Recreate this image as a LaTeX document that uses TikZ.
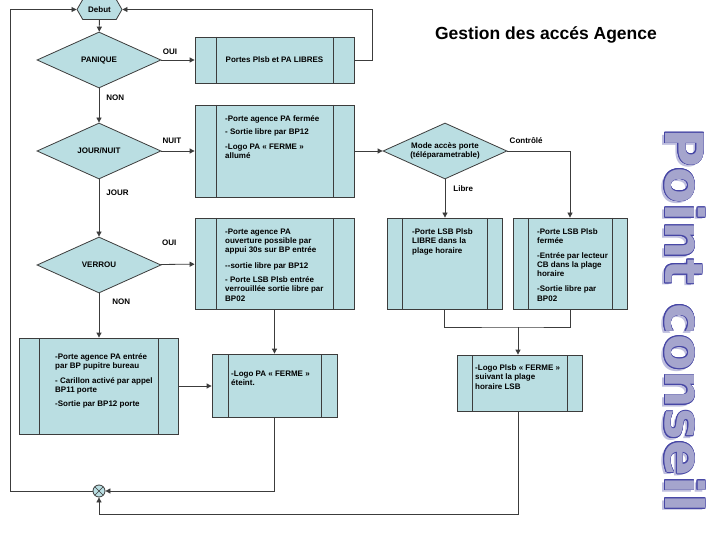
\documentclass[tikz,border=0pt]{standalone}
\usepackage{fontspec}
\setmainfont{Liberation Sans}
\newfontfamily\pcfont{DejaVu Sans}
\usetikzlibrary{arrows.meta,shapes.geometric,shapes.symbols,positioning,calc}
\definecolor{boxteal}{RGB}{186,222,226}
\definecolor{edgegray}{RGB}{60,60,60}
\definecolor{pcfill}{RGB}{165,165,205}
\definecolor{pcline}{RGB}{70,70,165}
\definecolor{pcshade}{RGB}{190,190,222}

\begin{document}
\begin{tikzpicture}[x=1pt, y=-1pt,
  every node/.style={font=\bfseries\fontsize{8}{9.3}\selectfont},
  strip/.store in=\stripw, strip=16pt,
  dec/.style={diamond, draw=edgegray, fill=boxteal, line width=0.8pt, aspect=2.2,
              minimum width=124pt, minimum height=56pt, inner sep=0pt, align=center},
  proc/.style={draw=edgegray, fill=boxteal, line width=0.8pt, inner sep=0pt, align=center,
               path picture={\draw[edgegray, line width=0.8pt]
                 ([xshift=\stripw]path picture bounding box.north west) -- ([xshift=\stripw]path picture bounding box.south west)
                 ([xshift=-\stripw]path picture bounding box.north east) -- ([xshift=-\stripw]path picture bounding box.south east);}},
  txt/.style={anchor=north west, align=left, inner sep=0pt},
  lbl/.style={inner sep=1pt},
  arrow/.style={-{Triangle[length=5pt,width=5pt]}, draw=edgegray, line width=0.8pt},
  wire/.style={draw=edgegray, line width=0.8pt},
  pc/.style={font=\pcfont\bfseries\fontsize{53}{60}\selectfont, rotate=-90,
             anchor=base west, inner sep=0pt},
]
\useasboundingbox[fill=white] (0,0) rectangle (720,540);

%% Start
\node[signal, signal to=west and east, signal pointer angle=120, draw=edgegray,
  fill=boxteal, line width=0.8pt, minimum width=45pt, minimum height=20pt,
  inner sep=0pt] (debut) at (99.5, 9.5) {Debut};

%% Decisions
\node[dec] (panique) at (99, 60) {PANIQUE};
\node[dec] (journuit) at (99, 151) {JOUR/NUIT};
\node[dec] (verrou) at (99, 265) {VERROU};
\node[dec] (mode) at (445, 151) {Mode accès porte\\(téléparametrable)};

%% Process boxes
\node[proc, strip=21pt, minimum width=159pt, minimum height=46pt] (portes) at (274.5, 60)
  {Portes Plsb et PA LIBRES};
\node[proc, strip=21pt, minimum width=159pt, minimum height=92pt] (nuitbox) at (274.5, 151) {};
\node[proc, strip=21pt, minimum width=159pt, minimum height=91pt] (verroubox) at (274.5, 263.5) {};
\node[proc, strip=15pt, minimum width=115pt, minimum height=91pt] (librebox) at (444.5, 263.5) {};
\node[proc, strip=15pt, minimum width=114pt, minimum height=91pt] (ctrlbox) at (570, 263.5) {};
\node[proc, strip=20pt, minimum width=159pt, minimum height=96pt] (jourbox) at (98.5, 386) {};
\node[proc, strip=16pt, minimum width=125pt, minimum height=63pt] (eteint) at (274.5, 385.5) {};
\node[proc, strip=15pt, minimum width=125pt, minimum height=56pt] (logolsb) at (519.5, 383) {};

%% Box texts
\node[txt] (nuittxt) at (225, 115.5)
  {-Porte agence PA fermée\\[4pt]- Sortie libre par BP12\\[5pt]-Logo PA « FERME »\\allumé};
\node[txt] (verroutxt) at (225, 228.5)
  {-Porte agence PA\\ouverture possible par\\appui 30s sur BP entrée\\[6pt]
   -{}-sortie libre par BP12\\[5pt]- Porte LSB Plsb entrée\\verrouillée sortie libre par\\BP02};
\node[txt] (libretxt) at (412, 228.5)
  {-Porte LSB Plsb\\LIBRE dans la\\plage horaire};
\node[txt] (ctrltxt) at (537, 228.5)
  {-Porte LSB Plsb\\fermée\\[5pt]-Entrée par lecteur\\CB dans la plage\\horaire\\[6pt]
   -Sortie libre par\\BP02};
\node[txt] (jourtxt) at (55, 353.5)
  {-Porte agence PA entrée\\par BP pupitre bureau\\[5pt]- Carillon activé par appel\\BP11 porte\\[5pt]
   -Sortie par BP12 porte};
\node[txt] (eteinttxt) at (231, 370.5) {-Logo PA « FERME »\\éteint.};
\node[txt] (logolsbtxt) at (475, 364.5) {-Logo Plsb « FERME »\\suivant la plage\\horaire LSB};

%% Junction
\node[circle, draw=edgegray, fill=boxteal, line width=0.8pt, minimum size=12pt, inner sep=0pt,
  path picture={\draw[edgegray, line width=0.7pt]
    (path picture bounding box.north west) -- (path picture bounding box.south east)
    (path picture bounding box.north east) -- (path picture bounding box.south west);}]
  (merge) at (99, 491) {};

%% Connectors
\draw[arrow] (debut) -- (panique);
\draw[arrow] (panique) -- (portes) node[lbl, pos=0.26, above, yshift=4pt] {OUI};
\draw[arrow] (portes.east) -- ++(18,0) |- (debut.east);
\draw[arrow] (panique) -- (journuit) node[lbl, pos=0.26, right, xshift=6pt] {NON};
\draw[arrow] (journuit) -- (nuitbox) node[lbl, pos=0.32, above, yshift=6pt] {NUIT};
\draw[arrow] (nuitbox) -- (mode);
\draw[arrow] (mode.east) -| (ctrlbox.north) node[lbl, pos=0.15, above, yshift=6pt] {Contrôlé};
\draw[arrow] (mode.south) -- (mode.south |- librebox.north)
  node[lbl, pos=0.23, right, xshift=7pt] {Libre};
\draw[arrow] (journuit) -- (verrou) node[lbl, pos=0.24, right, xshift=6pt] {JOUR};
\draw[arrow] (verrou) -- (verroubox) node[lbl, pos=0.26, above, yshift=17pt] {OUI};
\draw[arrow] (verrou.south) -- (verrou.south |- jourbox.north)
  node[lbl, pos=0.18, right, xshift=12pt] {NON};
\draw[arrow] (verroubox) -- (eteint);
\draw[arrow] (jourbox.east) -- (jourbox.east -| eteint.west);

%% Merge of the two door modes
\coordinate (join) at (518, 327);
\draw[wire] (librebox.south) |- (join) -| (ctrlbox.south);
\draw[arrow] (join) -- (join |- logolsb.north);

%% Back to start
\coordinate (rail) at (99, 514);
\coordinate (leftrail) at (10, 491);
\draw[arrow] (join |- logolsb.south) |- (rail) -- (merge.south);
\draw[arrow] (eteint.south) |- (merge.east);
\draw[arrow] (merge.west) -- (leftrail) |- (debut.west);

%% Title
\node[font=\bfseries\fontsize{17.5}{20}\selectfont] (title) at (546, 35) {Gestion des accés Agence};

%% Point conseil
\node[pc, text=pcshade] (pcshadow) at (662.5, 130.5) {Point conseil};
\foreach \a in {0,30,...,330}
  \node[pc, text=pcline] (pcrim\a) at ([shift={(\a:0.8pt)}]665, 128) {Point conseil};
\node[pc, text=pcfill] (pctext) at (665, 128) {Point conseil};

\end{tikzpicture}
\end{document}
